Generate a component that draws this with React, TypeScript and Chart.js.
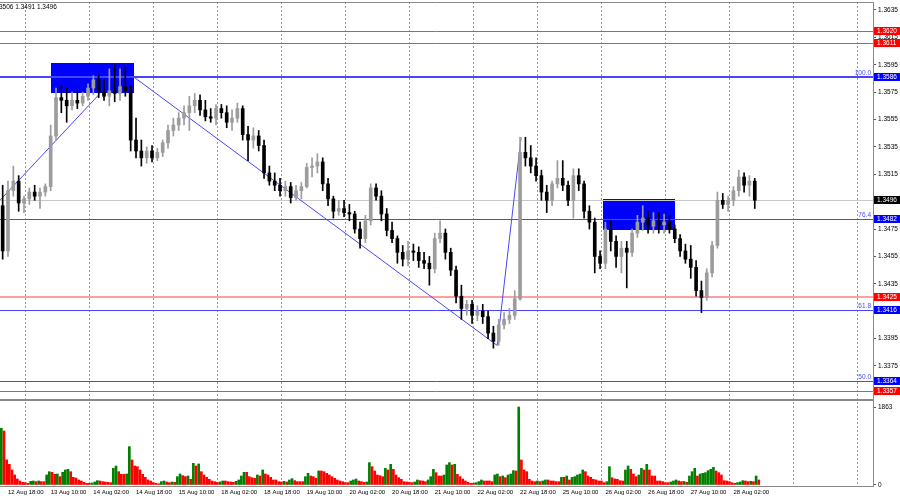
import { useEffect, useRef } from "react";
import { Chart, registerables } from "chart.js";
Chart.register(...registerables);

// ---- data (2-hour candles) ----
const opens = [1.3492,1.3459,1.3503,1.3510,1.3494,1.3497,1.3502,1.3499,1.3502,1.3506,1.3543,1.3571,1.3569,1.3565,1.3569,1.3567,1.3572,1.3578,1.3584,1.3575,1.3572,1.3576,1.3574,1.3579,1.3576,1.3540,1.3532,1.3527,1.3532,1.3527,1.3531,1.3538,1.3547,1.3551,1.3556,1.3560,1.3565,1.3569,1.3562,1.3557,1.3556,1.3563,1.3560,1.3553,1.3556,1.3563,1.3544,1.3540,1.3543,1.3536,1.3516,1.3510,1.3507,1.3503,1.3506,1.3498,1.3503,1.3506,1.3520,1.3521,1.3524,1.3508,1.3497,1.3488,1.3490,1.3487,1.3486,1.3475,1.3468,1.3481,1.3505,1.3499,1.3486,1.3474,1.3468,1.3458,1.3453,1.3459,1.3458,1.3452,1.3450,1.3446,1.3468,1.3472,1.3458,1.3445,1.3426,1.3417,1.3420,1.3412,1.3415,1.3411,1.3399,1.3393,1.3405,1.3409,1.3412,1.3424,1.3531,1.3527,1.3521,1.3514,1.3502,1.3496,1.3508,1.3512,1.3507,1.3496,1.3514,1.3508,1.3488,1.3480,1.3455,1.3450,1.3475,1.3466,1.3455,1.3461,1.3458,1.3472,1.3480,1.3483,1.3477,1.3481,1.3478,1.3480,1.3475,1.3468,1.3459,1.3453,1.3447,1.3430,1.3425,1.3443,1.3463,1.3496,1.3493,1.3496,1.3503,1.3513,1.3507,1.3510];
const highs = [1.3507,1.3510,1.3521,1.3514,1.3499,1.3505,1.3507,1.3505,1.3508,1.3551,1.3578,1.3580,1.3578,1.3575,1.3576,1.3575,1.3581,1.3587,1.3587,1.3584,1.3592,1.3595,1.3592,1.3594,1.3580,1.3556,1.3540,1.3535,1.3536,1.3534,1.3540,1.3551,1.3556,1.3560,1.3565,1.3572,1.3574,1.3573,1.3569,1.3563,1.3566,1.3566,1.3565,1.3562,1.3567,1.3565,1.3550,1.3549,1.3547,1.3540,1.3521,1.3516,1.3512,1.3510,1.3509,1.3507,1.3509,1.3523,1.3527,1.3530,1.3527,1.3512,1.3499,1.3496,1.3496,1.3493,1.3488,1.3480,1.3485,1.3508,1.3508,1.3503,1.3490,1.3480,1.3470,1.3463,1.3466,1.3464,1.3462,1.3458,1.3455,1.3472,1.3481,1.3475,1.3461,1.3448,1.3434,1.3423,1.3423,1.3419,1.3420,1.3415,1.3404,1.3409,1.3414,1.3417,1.3430,1.3542,1.3542,1.3536,1.3527,1.3518,1.3507,1.3510,1.3525,1.3525,1.3510,1.3519,1.3519,1.3510,1.3492,1.3483,1.3459,1.3480,1.3481,1.3470,1.3466,1.3466,1.3475,1.3485,1.3492,1.3488,1.3487,1.3487,1.3486,1.3485,1.3478,1.3471,1.3464,1.3463,1.3452,1.3437,1.3446,1.3466,1.3502,1.3501,1.3499,1.3506,1.3518,1.3516,1.3514,1.3512];
const lows = [1.3453,1.3455,1.3499,1.3488,1.3487,1.3493,1.3496,1.3490,1.3499,1.3503,1.3540,1.3560,1.3553,1.3562,1.3563,1.3565,1.3569,1.3573,1.3571,1.3569,1.3565,1.3568,1.3569,1.3572,1.3532,1.3527,1.3521,1.3523,1.3524,1.3525,1.3528,1.3534,1.3543,1.3547,1.3551,1.3547,1.3560,1.3558,1.3554,1.3553,1.3551,1.3556,1.3549,1.3547,1.3553,1.3540,1.3525,1.3534,1.3532,1.3512,1.3507,1.3503,1.3499,1.3499,1.3494,1.3496,1.3497,1.3505,1.3513,1.3516,1.3503,1.3492,1.3483,1.3485,1.3484,1.3481,1.3472,1.3461,1.3465,1.3478,1.3496,1.3481,1.3470,1.3465,1.3450,1.3448,1.3448,1.3452,1.3447,1.3446,1.3434,1.3443,1.3465,1.3453,1.3441,1.3421,1.3409,1.3412,1.3406,1.3408,1.3406,1.3395,1.3388,1.3390,1.3402,1.3406,1.3409,1.3423,1.3521,1.3516,1.3510,1.3496,1.3487,1.3492,1.3505,1.3503,1.3492,1.3483,1.3503,1.3483,1.3475,1.3443,1.3446,1.3446,1.3459,1.3447,1.3443,1.3432,1.3455,1.3469,1.3474,1.3472,1.3472,1.3472,1.3472,1.3472,1.3465,1.3455,1.3450,1.3439,1.3426,1.3414,1.3423,1.3440,1.3461,1.3490,1.3488,1.3492,1.3499,1.3502,1.3499,1.3490];
const closes = [1.3459,1.3503,1.3510,1.3494,1.3497,1.3502,1.3499,1.3502,1.3506,1.3543,1.3571,1.3569,1.3565,1.3569,1.3567,1.3572,1.3578,1.3584,1.3575,1.3572,1.3576,1.3574,1.3579,1.3576,1.3540,1.3532,1.3527,1.3532,1.3527,1.3531,1.3538,1.3547,1.3551,1.3556,1.3560,1.3565,1.3569,1.3562,1.3557,1.3556,1.3563,1.3560,1.3553,1.3556,1.3563,1.3544,1.3540,1.3543,1.3536,1.3516,1.3510,1.3507,1.3503,1.3506,1.3498,1.3503,1.3506,1.3520,1.3521,1.3524,1.3508,1.3497,1.3488,1.3490,1.3487,1.3486,1.3475,1.3468,1.3481,1.3505,1.3499,1.3486,1.3474,1.3468,1.3458,1.3453,1.3459,1.3458,1.3452,1.3450,1.3446,1.3468,1.3472,1.3458,1.3445,1.3426,1.3417,1.3420,1.3412,1.3415,1.3411,1.3399,1.3393,1.3405,1.3409,1.3412,1.3424,1.3531,1.3527,1.3521,1.3514,1.3502,1.3496,1.3508,1.3512,1.3507,1.3496,1.3514,1.3508,1.3488,1.3480,1.3455,1.3450,1.3475,1.3466,1.3455,1.3461,1.3458,1.3472,1.3480,1.3483,1.3477,1.3481,1.3478,1.3480,1.3475,1.3468,1.3459,1.3453,1.3447,1.3430,1.3425,1.3443,1.3463,1.3496,1.3493,1.3496,1.3503,1.3513,1.3507,1.3510,1.3496];

// hourly tick volume
const volumes = [1355,1290,600,494,359,239,143,96,64,56,40,88,96,80,96,80,80,239,318,303,255,263,199,303,359,374,318,183,167,120,96,64,40,40,48,72,104,96,80,72,64,56,398,454,318,255,255,263,917,598,454,438,359,255,183,120,96,56,40,30,80,96,72,56,72,64,199,263,223,199,215,136,518,454,502,318,239,183,136,96,80,64,72,96,96,80,72,64,88,120,215,303,303,199,175,159,239,215,359,263,239,183,120,120,80,72,88,72,120,151,104,80,80,80,199,279,215,199,159,335,335,318,279,239,199,159,120,96,80,56,56,96,120,143,96,80,64,72,534,438,335,239,223,199,398,359,494,374,239,175,136,80,72,64,56,72,120,104,96,80,120,199,374,295,215,215,239,478,534,478,494,255,199,143,96,64,40,40,56,80,120,96,96,96,80,239,263,199,215,175,239,263,343,335,1863,598,359,318,136,96,80,96,80,96,120,120,96,96,80,80,183,183,215,120,183,199,239,263,359,318,215,183,136,120,96,96,56,80,438,175,143,136,104,96,359,454,374,263,199,239,398,359,494,359,215,215,96,96,80,56,56,72,96,120,96,80,85,64,215,318,398,215,263,279,295,343,374,422,335,295,239,104,96,80,56,40,56,72,104,96,80,88,80,215,120];

const timeLabels = ["12 Aug 18:00","13 Aug 10:00","14 Aug 02:00","14 Aug 18:00","15 Aug 10:00","18 Aug 02:00","18 Aug 18:00","19 Aug 10:00","20 Aug 02:00","20 Aug 18:00","21 Aug 10:00","22 Aug 02:00","22 Aug 18:00","25 Aug 10:00","26 Aug 02:00","26 Aug 18:00","27 Aug 10:00","28 Aug 02:00"];
const labelBars = [3,19,35,51,67,83,99,115,131,147,163,179,195,211,227,243,259,275];
const gridBars = [9,33,57,81,105,129,153,177,201,225,249,273,297,321];

const priceTicks = [1.3635,1.3615,1.3595,1.3575,1.3555,1.3535,1.3515,1.3495,1.3475,1.3455,1.3435,1.3415,1.3395,1.3375,1.3355];
const volumeTicks = [0, 1863];

const redLevels = [1.3620, 1.3611, 1.3357];
const pinkLevels = [1.3425];
const fibLevels = [1.3586, 1.3482, 1.3416, 1.3364];
const fibLabels = ["100.0", "76.4", "61.8", "50.0"];
const currentPrice = 1.3496;
const headerText = "3506 1.3491 1.3496";

const zoneStart = [18.6, 225.6];
const zoneEnd = [49.7, 252.6];
const zoneTop = [1.3596, 1.3497];
const zoneBottom = [1.3574, 1.3474];

const trendStartX = [-0.5, 49.7, 185.9];
const trendStartY = [1.3496, 1.3586, 1.3390];
const trendEndX = [37.0, 185.9, 194.9];
const trendEndY = [1.3574, 1.3390, 1.3542];

// ---- styles ----
const FONT = "'Liberation Sans', Arial, sans-serif";
const BULL = "#9c9c9c";
const BEAR = "#000000";
const BLUE = "#4646ff";

export default function App() {
  const ref = useRef<HTMLCanvasElement>(null);

  useEffect(() => {
    document.body.style.margin = "0";
    const candleX = (j: number) => j * 2 + 0.5;
    const candleColors = opens.map((o, j) => (closes[j] > o ? BULL : BEAR));
    const volColors = volumes.map((v, i) => (i === 0 || v > volumes[i - 1] ? "#008000" : "#ff0000"));
    const noPad = (s: any) => {
      s.paddingTop = 0;
      s.paddingBottom = 0;
      s.paddingLeft = 0;
      s.paddingRight = 0;
    };

    const overlay = {
      id: "overlay",
      beforeDatasetsDraw(chart: any) {
        const { ctx, chartArea: a, scales } = chart;
        const x = scales.x, y = scales.y, yv = scales.yv;
        ctx.save();
        ctx.beginPath();
        ctx.rect(a.left, a.top, a.right - a.left, yv.top - a.top);
        ctx.clip();
        ctx.fillStyle = "#0000ff";
        zoneStart.forEach((s, k) => {
          const x0 = x.getPixelForValue(s), x1 = x.getPixelForValue(zoneEnd[k]);
          const y0 = y.getPixelForValue(zoneTop[k]), y1 = y.getPixelForValue(zoneBottom[k]);
          ctx.fillRect(Math.round(x0), Math.round(y0), Math.round(x1 - x0), Math.round(y1 - y0));
        });
        const hline = (v: number, color: string, w: number) => {
          const py = Math.round(y.getPixelForValue(v)) + (w % 2 ? 0.5 : 0);
          ctx.strokeStyle = color;
          ctx.lineWidth = w;
          ctx.beginPath();
          ctx.moveTo(a.left, py);
          ctx.lineTo(a.right, py);
          ctx.stroke();
        };
        hline(currentPrice, "#c8c8c8", 1);
        redLevels.forEach((v) => hline(v, "#ff4040", 1));
        pinkLevels.forEach((v) => hline(v, "#ffa0a0", 2));
        fibLevels.forEach((v, k) => hline(v, BLUE, k === 0 ? 2 : 1));
        ctx.restore();
      },
      afterDraw(chart: any) {
        const { ctx, chartArea: a, scales } = chart;
        const y = scales.y, yv = scales.yv;
        ctx.save();
        // frame
        ctx.strokeStyle = "#8a8a8a";
        ctx.lineWidth = 1;
        ctx.beginPath();
        ctx.moveTo(0, a.top + 0.5); ctx.lineTo(a.right, a.top + 0.5);
        ctx.moveTo(0, a.bottom + 0.5); ctx.lineTo(a.right, a.bottom + 0.5);
        ctx.stroke();
        ctx.fillStyle = "#8a8a8a";
        ctx.fillRect(0, Math.round(yv.top) - 1, a.right, 2);
        // fib labels
        ctx.font = `6.5px ${FONT}`;
        ctx.textBaseline = "bottom";
        ctx.textAlign = "right";
        ctx.fillStyle = BLUE;
        fibLevels.forEach((v, k) => {
          ctx.fillText(fibLabels[k], a.right - 2, Math.round(y.getPixelForValue(v)) - 1);
        });
        // price boxes
        const box = (v: number, bg: string) => {
          const py = Math.round(y.getPixelForValue(v));
          ctx.fillStyle = bg;
          ctx.fillRect(a.right + 1, py - 4, 900 - a.right - 1, 8);
          ctx.fillStyle = "#ffffff";
          ctx.textAlign = "left";
          ctx.textBaseline = "middle";
          ctx.fillText(v.toFixed(4), a.right + 4, py + 0.5);
        };
        ctx.font = `6.5px ${FONT}`;
        redLevels.forEach((v) => box(v, "#ff0000"));
        pinkLevels.forEach((v) => box(v, "#ff0000"));
        fibLevels.forEach((v) => box(v, "#0000ff"));
        box(currentPrice, "#000000");
        // header
        ctx.fillStyle = "#000000";
        ctx.textAlign = "left";
        ctx.textBaseline = "middle";
        ctx.font = `6.5px ${FONT}`;
        ctx.fillText(headerText, -1, 7);
        ctx.restore();
      },
    };

    const cfg: any = {
      type: "bar",
      data: {
        datasets: [
          ...trendStartX.map((sx, k) => ({
            type: "line",
            data: [{ x: sx, y: trendStartY[k] }, { x: trendEndX[k], y: trendEndY[k] }],
            borderColor: BLUE,
            borderWidth: 1,
            pointRadius: 0,
            xAxisID: "x",
            yAxisID: "y",
            order: 5,
          })),
          {
            type: "bar",
            data: opens.map((_, j) => ({ x: candleX(j), y: [lows[j], highs[j]] })),
            backgroundColor: candleColors,
            barThickness: 1,
            grouped: false,
            xAxisID: "x",
            yAxisID: "y",
            order: 3,
          },
          {
            type: "bar",
            data: opens.map((o, j) => ({ x: candleX(j), y: [o, closes[j]] })),
            backgroundColor: candleColors,
            barThickness: 3,
            minBarLength: 1,
            grouped: false,
            xAxisID: "x",
            yAxisID: "y",
            order: 2,
          },
          {
            type: "bar",
            data: volumes.map((v, i) => ({ x: i, y: v })),
            backgroundColor: volColors,
            barThickness: 2,
            grouped: false,
            xAxisID: "x",
            yAxisID: "yv",
            order: 1,
          },
        ],
      },
      options: {
        responsive: false,
        animation: false,
        devicePixelRatio: 1,
        layout: { padding: { top: 2, left: 0, right: 0, bottom: 0 } },
        plugins: { legend: { display: false }, tooltip: { enabled: false } },
        scales: {
          x: {
            type: "linear",
            min: -0.5,
            max: 326.83,
            offset: false,
            grid: {
              offset: false,
              drawTicks: false,
              lineWidth: 1,
              color: (c: any) => (c.index < gridBars.length ? "#969696" : "rgba(0,0,0,0)"),
            },
            border: { display: false, dash: [2, 2] },
            afterBuildTicks: (s: any) => {
              s.ticks = [
                ...gridBars.map((v) => ({ value: v })),
                ...labelBars.map((v) => ({ value: v - 0.5 })),
              ];
            },
            afterFit: (s: any) => { s.height = 14; noPad(s); },
            ticks: {
              autoSkip: false,
              maxRotation: 0,
              minRotation: 0,
              align: "start",
              padding: 3,
              color: "#000",
              font: { family: FONT, size: 6 },
              callback: (_v: any, i: number) => (i >= gridBars.length ? timeLabels[i - gridBars.length] : ""),
            },
          },
          y: {
            type: "linear",
            position: "right",
            stack: "panes",
            stackWeight: 398,
            min: 1.335012,
            max: 1.364084,
            beginAtZero: false,
            grid: { drawOnChartArea: false, drawTicks: true, tickLength: 3, color: "#555" },
            border: { display: true, color: "#8a8a8a", width: 1 },
            afterBuildTicks: (s: any) => { s.ticks = priceTicks.map((v) => ({ value: v })); },
            afterFit: (s: any) => { s.width = 27; noPad(s); },
            ticks: {
              padding: 2,
              color: "#000",
              font: { family: FONT, size: 6.5 },
              callback: (v: any) => Number(v).toFixed(4),
            },
          },
          yv: {
            type: "linear",
            position: "right",
            stack: "panes",
            stackWeight: 86,
            min: -23.9,
            max: 2030.2,
            beginAtZero: false,
            grid: { drawOnChartArea: false, drawTicks: true, tickLength: 3, color: "#555" },
            border: { display: true, color: "#8a8a8a", width: 1 },
            afterBuildTicks: (s: any) => { s.ticks = volumeTicks.map((v) => ({ value: v })); },
            afterFit: (s: any) => { s.width = 27; noPad(s); },
            ticks: {
              padding: 2,
              color: "#000",
              font: { family: FONT, size: 6.5 },
              callback: (v: any) => String(v),
            },
          },
        },
      },
      plugins: [overlay],
    };

    const chart = new Chart(ref.current as HTMLCanvasElement, cfg);
    return () => chart.destroy();
  }, []);

  return <canvas ref={ref} width={900} height={500} style={{ display: "block" }} />;
}
